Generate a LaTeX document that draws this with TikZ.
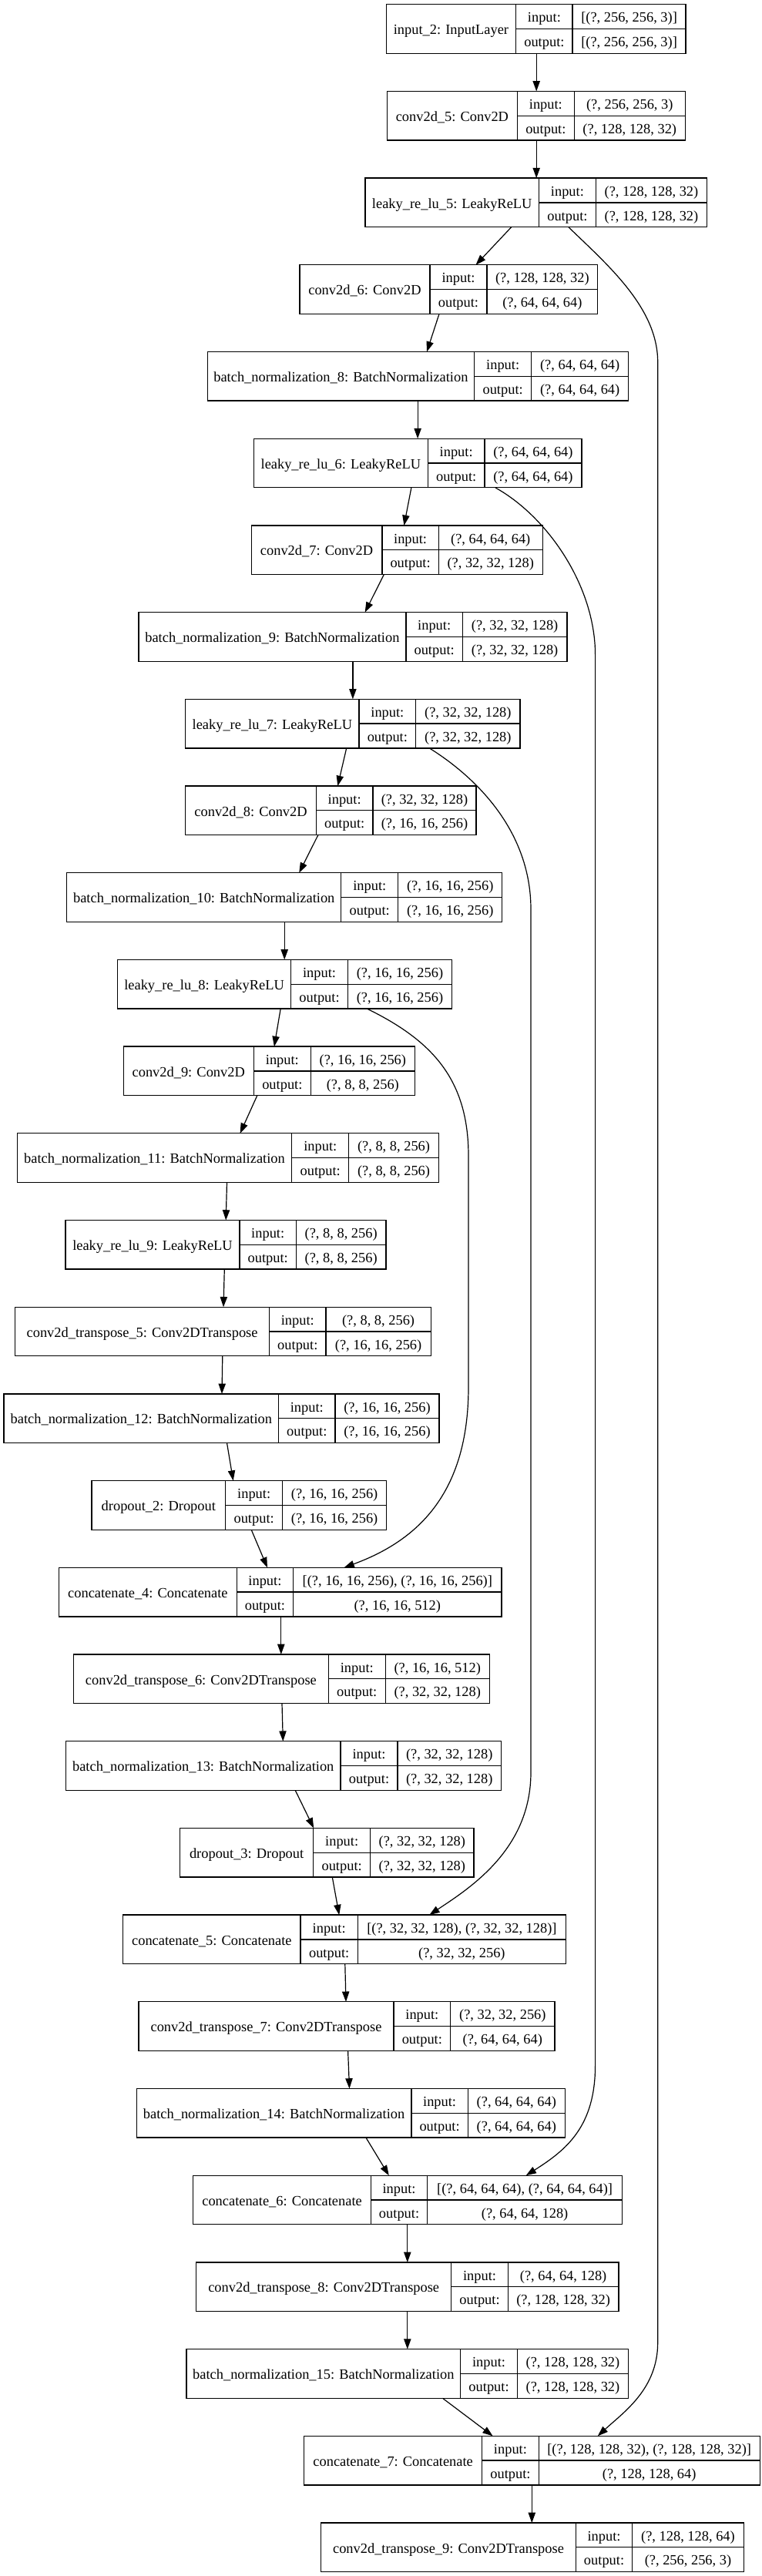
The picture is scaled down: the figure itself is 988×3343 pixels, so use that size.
\documentclass[tikz,border=0pt]{standalone}
\usepackage{fontspec}
\setmainfont{Liberation Serif}
\usetikzlibrary{arrows.meta}
\tikzset{
  kbx/.style={draw=black, line width=1.3pt, inner sep=0pt, outer sep=0pt, minimum height=63.6pt},
  kln/.style={draw=black, line width=1.3pt},
  ktx/.style={anchor=base, inner sep=0pt, font=\fontsize{18.4}{22}\selectfont},
  ed/.style={draw=black, line width=1.2pt, -{Triangle[length=13.3pt,width=9.3pt]}},
}
% #1 name, #2 row, #3 left, #4 divider1, #5 divider2, #6 right, #7 label, #8 input, #9 output
\newcommand\kbox[9]{%
  \pgfmathsetmacro\kt{5.7+112.7*#2}%
  \pgfmathsetmacro\kb{\kt+63.6}%
  \pgfmathsetmacro\km{\kt+31.8}%
  \pgfmathsetmacro\kw{#6-#3}%
  \pgfmathsetmacro\ka{(#3+#4)/2}%
  \pgfmathsetmacro\kc{(#4+#5)/2}%
  \pgfmathsetmacro\kd{(#5+#6)/2}%
  \pgfmathsetmacro\kra{\kt+15.9+7.2}%
  \pgfmathsetmacro\krb{\km+15.9+7.2}%
  \pgfmathsetmacro\krc{\km+7.2}%
  \node[kbx, minimum width=\kw pt, anchor=north west] (#1) at (#3,\kt) {};
  \draw[kln] (#4,\kt) -- (#4,\kb) (#5,\kt) -- (#5,\kb) (#4,\km) -- (#6,\km);
  \node[ktx] (#1-n) at (\ka,\krc) {#7};
  \node[ktx] (#1-li) at (\kc,\kra) {input:};
  \node[ktx] (#1-lo) at (\kc,\krb) {output:};
  \node[ktx] (#1-vi) at (\kd,\kra) {#8};
  \node[ktx] (#1-vo) at (\kd,\krb) {#9};
}
\begin{document}
\begin{tikzpicture}[x=1pt,y=-1pt]
\useasboundingbox (0,0) rectangle (988,3343);
\fill[white] (0,0) rectangle (988,3343);

\kbox{n0}{0}{501.2}{669.7}{743.1}{890.1}{input\_2: InputLayer}{[(?, 256, 256, 3)]}{[(?, 256, 256, 3)]}
\kbox{n1}{1}{502.3}{671.5}{745.2}{889.4}{conv2d\_5: Conv2D}{(?, 256, 256, 3)}{(?, 128, 128, 32)}
\kbox{n2}{2}{474}{699.4}{773.4}{917.6}{leaky\_re\_lu\_5: LeakyReLU}{(?, 128, 128, 32)}{(?, 128, 128, 32)}
\kbox{n3}{3}{388.9}{558}{632}{775.8}{conv2d\_6: Conv2D}{(?, 128, 128, 32)}{(?, 64, 64, 64)}
\kbox{n4}{4}{269.2}{615.6}{689.7}{815.7}{batch\_normalization\_8: BatchNormalization}{(?, 64, 64, 64)}{(?, 64, 64, 64)}
\kbox{n5}{5}{329.3}{555.4}{628.9}{755}{leaky\_re\_lu\_6: LeakyReLU}{(?, 64, 64, 64)}{(?, 64, 64, 64)}
\kbox{n6}{6}{326.2}{495.9}{569.3}{704.2}{conv2d\_7: Conv2D}{(?, 64, 64, 64)}{(?, 32, 32, 128)}
\kbox{n7}{7}{179.9}{526.9}{600.4}{735.9}{batch\_normalization\_9: BatchNormalization}{(?, 32, 32, 128)}{(?, 32, 32, 128)}
\kbox{n8}{8}{240.7}{466.1}{539.6}{675.1}{leaky\_re\_lu\_7: LeakyReLU}{(?, 32, 32, 128)}{(?, 32, 32, 128)}
\kbox{n9}{9}{240.7}{410.4}{483.9}{618.1}{conv2d\_8: Conv2D}{(?, 32, 32, 128)}{(?, 16, 16, 256)}
\kbox{n10}{10}{86.8}{442.7}{516.8}{651.7}{batch\_normalization\_10: BatchNormalization}{(?, 16, 16, 256)}{(?, 16, 16, 256)}
\kbox{n11}{11}{152.6}{377.5}{451.6}{586.4}{leaky\_re\_lu\_8: LeakyReLU}{(?, 16, 16, 256)}{(?, 16, 16, 256)}
\kbox{n12}{12}{160.2}{329.3}{403.4}{538.3}{conv2d\_9: Conv2D}{(?, 16, 16, 256)}{(?, 8, 8, 256)}
\kbox{n13}{13}{22.2}{378.7}{452.8}{569.3}{batch\_normalization\_11: BatchNormalization}{(?, 8, 8, 256)}{(?, 8, 8, 256)}
\kbox{n14}{14}{85}{311}{384.4}{501}{leaky\_re\_lu\_9: LeakyReLU}{(?, 8, 8, 256)}{(?, 8, 8, 256)}
\kbox{n15}{15}{19.6}{349.6}{423}{559.2}{conv2d\_transpose\_5: Conv2DTranspose}{(?, 8, 8, 256)}{(?, 16, 16, 256)}
\kbox{n16}{16}{5.1}{361.6}{435}{570}{batch\_normalization\_12: BatchNormalization}{(?, 16, 16, 256)}{(?, 16, 16, 256)}
\kbox{n17}{17}{119.1}{292.6}{366.7}{501.6}{dropout\_2: Dropout}{(?, 16, 16, 256)}{(?, 16, 16, 256)}
\kbox{n18}{18}{76.6}{307.2}{380.6}{651}{concatenate\_4: Concatenate}{[(?, 16, 16, 256), (?, 16, 16, 256)]}{(?, 16, 16, 512)}
\kbox{n19}{19}{95.6}{426.2}{500.3}{635.2}{conv2d\_transpose\_6: Conv2DTranspose}{(?, 16, 16, 512)}{(?, 32, 32, 128)}
\kbox{n20}{20}{85.5}{442}{516.1}{650.4}{batch\_normalization\_13: BatchNormalization}{(?, 32, 32, 128)}{(?, 32, 32, 128)}
\kbox{n21}{21}{233.7}{406.6}{480.7}{615}{dropout\_3: Dropout}{(?, 32, 32, 128)}{(?, 32, 32, 128)}
\kbox{n22}{22}{159.6}{390.1}{464.2}{734.6}{concatenate\_5: Concatenate}{[(?, 32, 32, 128), (?, 32, 32, 128)]}{(?, 32, 32, 256)}
\kbox{n23}{23}{179.9}{511.1}{584.6}{720.1}{conv2d\_transpose\_7: Conv2DTranspose}{(?, 32, 32, 256)}{(?, 64, 64, 64)}
\kbox{n24}{24}{177.3}{533.9}{607.3}{733.4}{batch\_normalization\_14: BatchNormalization}{(?, 64, 64, 64)}{(?, 64, 64, 64)}
\kbox{n25}{25}{250.8}{481.3}{554.8}{807.5}{concatenate\_6: Concatenate}{[(?, 64, 64, 64), (?, 64, 64, 64)]}{(?, 64, 64, 128)}
\kbox{n26}{26}{254.6}{585.8}{659.3}{803}{conv2d\_transpose\_8: Conv2DTranspose}{(?, 64, 64, 128)}{(?, 128, 128, 32)}
\kbox{n27}{27}{241.9}{597.8}{671.3}{815.7}{batch\_normalization\_15: BatchNormalization}{(?, 128, 128, 32)}{(?, 128, 128, 32)}
\kbox{n28}{28}{394.6}{625.7}{699.2}{986.2}{concatenate\_7: Concatenate}{[(?, 128, 128, 32), (?, 128, 128, 32)]}{(?, 128, 128, 64)}
\kbox{n29}{29}{416.7}{747.3}{820.8}{965.2}{conv2d\_transpose\_9: Conv2DTranspose}{(?, 128, 128, 64)}{(?, 256, 256, 3)}

% main chain
\draw[ed] (696.2,0 |- n0.south) -- (696.2,0 |- n1.north);
\draw[ed] (696.2,0 |- n1.south) -- (696.2,0 |- n2.north);
\draw[ed] (663.7,0 |- n2.south) -- (617.5,0 |- n3.north);
\draw[ed] (570,0 |- n3.south) -- (554,0 |- n4.north);
\draw[ed] (542.1,0 |- n4.south) -- (542.1,0 |- n5.north);
\draw[ed] (533.9,0 |- n5.south) -- (524.4,0 |- n6.north);
\draw[ed] (498.4,0 |- n6.south) -- (473.7,0 |- n7.north);
\draw[ed] (457.9,0 |- n7.south) -- (457.9,0 |- n8.north);
\draw[ed] (449.7,0 |- n8.south) -- (438.3,0 |- n9.north);
\draw[ed] (412.9,0 |- n9.south) -- (388.2,0 |- n10.north);
\draw[ed] (369.2,0 |- n10.south) -- (369.2,0 |- n11.north);
\draw[ed] (364.2,0 |- n11.south) -- (355.9,0 |- n12.north);
\draw[ed] (333.8,0 |- n12.south) -- (311.6,0 |- n13.north);
\draw[ed] (294.5,0 |- n13.south) -- (293.2,0 |- n14.north);
\draw[ed] (291.3,0 |- n14.south) -- (290,0 |- n15.north);
\draw[ed] (288.8,0 |- n15.south) -- (288,0 |- n16.north);
\draw[ed] (294.5,0 |- n16.south) -- (302.7,0 |- n17.north);
\draw[ed] (326.2,0 |- n17.south) -- (347,0 |- n18.north);
\draw[ed] (364.8,0 |- n18.south) -- (364.8,0 |- n19.north);
\draw[ed] (366,0 |- n19.south) -- (367.3,0 |- n20.north);
\draw[ed] (383.2,0 |- n20.south) -- (407.2,0 |- n21.north);
\draw[ed] (431.3,0 |- n21.south) -- (440.2,0 |- n22.north);
\draw[ed] (447.8,0 |- n22.south) -- (449,0 |- n23.north);
\draw[ed] (451.6,0 |- n23.south) -- (453.5,0 |- n24.north);
\draw[ed] (475,0 |- n24.south) -- (504.8,0 |- n25.north);
\draw[ed] (528.8,0 |- n25.south) -- (528.8,0 |- n26.north);
\draw[ed] (528.8,0 |- n26.south) -- (528.8,0 |- n27.north);
\draw[ed] (574.4,0 |- n27.south) -- (639.6,0 |- n28.north);
\draw[ed] (690.3,0 |- n28.south) -- (690.3,0 |- n29.north);

% skip connections
\draw[ed] (737.8,0 |- n2.south) .. controls (790,345) and (853.7,400) .. (853.7,470)
  -- (853.7,3040) .. controls (853.7,3100) and (810,3130) .. (775.8,0 |- n28.north);
\draw[ed] (642.8,0 |- n5.south) .. controls (710,670) and (772.6,760) .. (772.6,850)
  -- (772.6,2680) .. controls (772.6,2760) and (735,2790) .. (682.7,0 |- n25.north);
\draw[ed] (557.3,0 |- n8.south) .. controls (620,1010) and (689,1080) .. (689,1180)
  -- (689,2300) .. controls (689,2400) and (610,2450) .. (557.3,0 |- n22.north);
\draw[ed] (476.3,0 |- n11.south) .. controls (560,1350) and (608,1400) .. (608,1500)
  -- (608,1800) .. controls (608,1940) and (540,2000) .. (446.5,0 |- n18.north);
\end{tikzpicture}
\end{document}
